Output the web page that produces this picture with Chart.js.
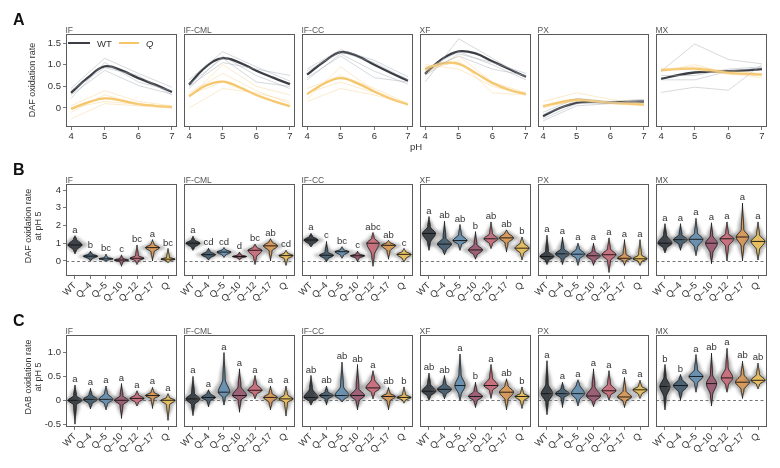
<!DOCTYPE html>
<html><head><meta charset="utf-8">
<script src="https://cdn.jsdelivr.net/npm/chart.js@4.4.1/dist/chart.umd.min.js"></script>
<style>
html,body{margin:0;padding:0;background:#fff}
body{width:780px;height:468px;position:relative;overflow:hidden;font-family:'Liberation Sans',Arial,Helvetica,sans-serif;color:#333}
canvas{position:absolute}
.lab{position:absolute;font-weight:bold;font-size:16px;line-height:16px;color:#111}
.ttl{position:absolute;font-size:8.5px;line-height:10px;color:#555;white-space:nowrap}
.yt{position:absolute;font-size:9px;line-height:10px;color:#333;white-space:nowrap;text-align:center;transform:translate(-50%,-50%) rotate(-90deg)}
.txt{position:absolute;font-size:9.5px;line-height:10px;color:#333;white-space:nowrap}
.ln{position:absolute;height:2.2px}
</style></head><body>
<script>
// ---------------- DATA ----------------
const PANELS = ['IF','IF-CML','IF-CC','XF','PX','MX'];
const PH = [4,5,6,7];
const PH_FIT = [4,4.5,5,5.5,6,6.5,7];
const PH_TICKS = [4,5,6,7];
const RATE_TICKS_A = [0,0.5,1.0,1.5];
const DAF_TICKS = [0,1,2,3,4];
const DAB_TICKS = [-0.5,0,0.5,1.0];

// smoothed curves (values read at PH_FIT)
const WT_FIT = [
  [0.35,0.70,0.96,0.87,0.69,0.54,0.37],
  [0.54,0.95,1.15,1.05,0.86,0.70,0.55],
  [0.77,1.07,1.29,1.20,1.00,0.81,0.63],
  [0.79,1.13,1.31,1.26,1.08,0.90,0.72],
  [-0.19,0.00,0.12,0.14,0.13,0.14,0.15],
  [0.67,0.76,0.82,0.84,0.85,0.87,0.90]
];
const Q_FIT = [
  [-0.02,0.13,0.22,0.17,0.09,0.05,0.02],
  [0.27,0.52,0.61,0.48,0.30,0.16,0.04],
  [0.32,0.56,0.69,0.57,0.38,0.21,0.08],
  [0.90,1.03,1.02,0.81,0.58,0.42,0.32],
  [0.04,0.13,0.19,0.16,0.12,0.10,0.08],
  [0.87,0.90,0.91,0.87,0.81,0.79,0.77]
];
// individual replicates (values at PH)
const WT_REPS = [
  [[0.45,1.15,0.80,0.48],[0.30,0.87,0.52,0.32],[0.22,1.05,0.60,0.40],[0.40,0.93,0.75,0.30]],
  [[0.65,1.30,0.95,0.62],[0.45,1.20,0.75,0.45],[0.50,1.05,0.90,0.75],[0.55,1.15,0.60,0.50]],
  [[0.90,1.35,1.10,0.72],[0.65,1.25,0.85,0.55],[0.70,1.20,0.70,0.60],[0.85,1.30,1.05,0.65]],
  [[0.60,1.60,1.15,0.70],[0.85,1.20,0.90,0.75],[0.75,1.25,1.05,0.80],[0.90,1.30,1.00,0.65]],
  [[-0.30,0.05,0.10,0.17],[-0.25,0.10,0.12,0.15],[-0.10,0.22,0.15,0.20],[-0.15,0.15,0.12,0.12]],
  [[0.85,1.48,1.12,1.02],[0.36,0.48,0.41,1.00],[0.65,0.65,0.85,0.93],[0.75,0.75,0.90,0.95]]
];
const Q_REPS = [
  [[-0.25,0.10,0.05,0.00],[0.05,0.40,0.15,0.05],[-0.10,0.30,0.10,0.02],[0.00,0.15,0.08,0.04]],
  [[0.00,0.45,0.35,0.15],[0.35,0.80,0.40,0.10],[0.30,0.60,0.30,0.05],[0.25,1.00,0.50,0.30]],
  [[0.20,0.95,0.40,0.05],[0.35,0.60,0.35,0.10],[0.15,0.45,0.30,0.10],[0.45,0.75,0.45,0.10]],
  [[0.85,1.10,0.35,0.30],[0.80,1.20,0.60,0.35],[1.00,0.90,0.50,0.30],[0.95,1.05,0.55,0.32]],
  [[0.15,0.35,0.20,0.10],[0.00,0.20,0.10,0.05],[0.05,0.15,0.12,0.10],[0.02,0.18,0.14,0.08]],
  [[0.90,0.95,0.85,0.80],[0.85,1.00,0.80,0.70],[0.88,0.92,0.82,0.75],[0.92,0.88,0.78,0.78]]
];

const GENOTYPES = ['WT','Q–4','Q–5','Q–10','Q–12','Q–17','Q'];

// B: DAF oxidation rate at pH 5 (violin summaries per panel x genotype)
const DAF_MIN = [
  [0.4,0.0,0.0,-0.3,-0.2,0.0,-0.1],
  [0.6,0.05,0.2,0.05,-0.2,0.0,-0.25],
  [0.8,-0.05,0.15,-0.05,-0.3,0.1,-0.05],
  [0.6,0.35,0.6,0.1,0.7,0.5,0.05],
  [-0.2,-0.2,-0.25,-0.25,-0.65,-0.25,-0.25],
  [0.45,0.6,0.3,-0.15,0.0,0.0,0.05]
];
const DAF_LO = [
  [0.6,0.1,0.03,-0.05,0.0,0.5,0.0],
  [0.75,0.15,0.3,0.15,0.2,0.55,0.1],
  [0.9,0.1,0.3,0.15,0.3,0.55,0.1],
  [1.0,0.55,0.9,0.3,0.95,1.0,0.4],
  [0.0,0.1,0.1,0.0,0.0,0.0,-0.05],
  [0.7,0.9,0.75,0.4,0.8,0.8,0.6]
];
const DAF_MED = [
  [0.9,0.27,0.12,0.05,0.15,0.75,0.1],
  [1.0,0.35,0.5,0.25,0.6,0.85,0.3],
  [1.18,0.32,0.52,0.29,1.0,0.88,0.37],
  [1.55,0.95,1.15,0.62,1.25,1.3,0.72],
  [0.25,0.4,0.38,0.29,0.35,0.15,0.12],
  [1.0,1.2,1.22,1.0,1.25,1.35,1.1]
];
const DAF_HI = [
  [1.25,0.4,0.2,0.15,0.3,0.95,0.2],
  [1.2,0.55,0.65,0.35,0.8,1.1,0.45],
  [1.4,0.5,0.65,0.4,1.3,1.05,0.55],
  [1.95,1.3,1.5,0.95,1.55,1.6,1.05],
  [0.55,0.7,0.7,0.55,0.7,0.4,0.35],
  [1.5,1.5,1.6,1.45,1.55,1.8,1.5]
];
const DAF_MAX = [
  [1.42,0.55,0.38,0.34,0.9,1.2,0.7],
  [1.4,0.72,0.75,0.5,0.95,1.25,0.6],
  [1.55,1.1,0.8,0.55,1.6,1.15,0.7],
  [2.5,2.25,2.05,1.65,2.2,1.75,1.35],
  [1.45,1.35,1.0,1.0,1.3,1.2,1.2],
  [2.1,2.1,2.4,2.15,2.2,3.25,2.2]
];
const DAF_LETTERS = [
  ['a','b','bc','c','bc','a','bc'],
  ['a','cd','cd','d','bc','ab','cd'],
  ['a','c','bc','c','abc','ab','c'],
  ['a','ab','ab','b','ab','ab','b'],
  ['a','a','a','a','a','a','a'],
  ['a','a','a','a','a','a','a']
];

// C: DAB oxidation rate at pH 5
const DAB_MIN = [
  [-0.5,-0.18,-0.2,-0.38,-0.12,-0.17,-0.42],
  [-0.32,-0.14,-0.1,-0.25,0.03,-0.2,-0.33],
  [-0.1,-0.1,-0.03,-0.2,0.03,-0.2,-0.06],
  [0.0,0.03,0.0,-0.15,0.04,-0.2,-0.17],
  [-0.3,-0.15,-0.12,-0.13,0.0,-0.15,0.04],
  [-0.2,0.0,0.17,-0.12,0.17,0.04,0.24]
];
const DAB_LO = [
  [-0.1,-0.08,-0.08,-0.1,-0.05,0.03,-0.1],
  [-0.1,-0.02,0.05,0.0,0.12,-0.05,-0.05],
  [-0.03,0.02,0.0,-0.02,0.15,-0.02,0.0],
  [0.08,0.12,0.1,-0.02,0.2,0.0,-0.02],
  [-0.05,0.05,0.0,-0.03,0.1,-0.02,0.12],
  [0.05,0.15,0.35,0.1,0.3,0.22,0.33]
];
const DAB_MED = [
  [0.0,0.02,0.02,0.0,0.04,0.1,0.0],
  [0.03,0.06,0.17,0.1,0.21,0.06,0.03],
  [0.06,0.1,0.1,0.1,0.26,0.08,0.06],
  [0.19,0.23,0.31,0.08,0.31,0.17,0.08],
  [0.14,0.14,0.14,0.09,0.2,0.07,0.22],
  [0.29,0.31,0.5,0.35,0.47,0.38,0.42]
];
const DAB_HI = [
  [0.1,0.12,0.15,0.1,0.12,0.17,0.06],
  [0.15,0.15,0.45,0.3,0.35,0.15,0.12],
  [0.25,0.18,0.3,0.25,0.45,0.15,0.12],
  [0.35,0.35,0.55,0.2,0.48,0.32,0.15],
  [0.35,0.25,0.35,0.3,0.35,0.2,0.3],
  [0.5,0.45,0.65,0.55,0.7,0.55,0.55]
];
const DAB_MAX = [
  [0.32,0.25,0.3,0.35,0.2,0.27,0.14],
  [0.5,0.22,1.0,0.66,0.52,0.3,0.3],
  [0.52,0.3,0.8,0.75,0.62,0.27,0.28],
  [0.57,0.52,0.97,0.38,0.75,0.45,0.28],
  [0.83,0.38,0.43,0.66,0.62,0.48,0.42],
  [0.75,0.54,0.96,0.99,1.09,0.82,0.78]
];
const DAB_LETTERS = [
  ['a','a','a','a','a','a','a'],
  ['a','a','a','a','a','a','a'],
  ['ab','ab','ab','ab','a','ab','b'],
  ['ab','ab','a','b','a','ab','b'],
  ['a','a','a','a','a','a','a'],
  ['b','b','a','ab','a','ab','ab']
];

// ---------------- STYLE / LAYOUT ----------------
const COLORS = ['#3d4348','#4b6374','#6a91b0','#9d6076','#c8717f','#d69a5d','#e6be62'];
const WT_COLOR = '#3b3f45', Q_COLOR = '#f5c669';
const BOX_L0 = 66, BOX_STEP = 118, BOX_W = 111;
const ROW_A = {top:34, h:93, padT:10, padB:22};
const ROW_B = {top:184, h:92, padT:10, padB:32};
const ROW_C = {top:335, h:92, padT:10, padB:40};

Chart.defaults.font.family = "'Liberation Sans', Arial, Helvetica, sans-serif";
Chart.defaults.font.size = 9.5;
Chart.defaults.color = '#333';
Chart.defaults.animation = false;

function addDiv(cls, html, style){
  const d = document.createElement('div');
  d.className = cls; d.innerHTML = html;
  Object.assign(d.style, style);
  document.body.appendChild(d);
  return d;
}

function makeCanvas(i, row){
  const padL = i===0 ? 42 : 16, padR = 8;
  const w = BOX_W + padL + padR, h = row.h + row.padT + row.padB;
  const c = document.createElement('canvas');
  c.width = w; c.height = h;
  Object.assign(c.style,{left:(BOX_L0+BOX_STEP*i-padL)+'px', top:(row.top-row.padT)+'px', width:w+'px', height:h+'px'});
  document.body.appendChild(c);
  return {c, padL, padR};
}
function tickGrid(){ return {display:true, drawOnChartArea:false, drawTicks:true, tickLength:3, color:'#555', lineWidth:0.8}; }
function makeScales(i, padL, row, xc, yc){
  return {
    x:{type:'linear', min:xc.min, max:xc.max, grid:tickGrid(), border:{display:false},
       afterBuildTicks:s=>{ s.ticks = xc.ticks.map(v=>({value:v})); },
       afterFit:s=>{ s.height = row.padB; },
       ticks:{padding:xc.padding, autoSkip:false, minRotation:xc.rot, maxRotation:xc.rot, callback:xc.label, color:'#333'}},
    y:{type:'linear', display:i===0, min:yc.min, max:yc.max, grid:tickGrid(), border:{display:false},
       afterBuildTicks:s=>{ s.ticks = yc.ticks.map(v=>({value:v})); },
       afterFit:s=>{ if(i===0) s.width = padL; },
       ticks:{padding:2, callback:yc.label, color:'#333'}}
  };
}
function boxPlugin(){
  return {id:'panelBox', afterDraw(chart){
    const {ctx, chartArea:a} = chart;
    ctx.save(); ctx.strokeStyle='#5a5a5a'; ctx.lineWidth=1;
    ctx.strokeRect(Math.round(a.left)+0.5, Math.round(a.top)+0.5, Math.round(a.width)-1, Math.round(a.height)-1);
    ctx.restore();
  }};
}
function ss(t){ t=Math.max(0,Math.min(1,t)); return t*t*(3-2*t); }
function prof(v, mn, lo, md, hi, mx){
  const T=0.2, e=1e-6;
  if (v<lo) return T*ss((v-mn)/Math.max(lo-mn,e));
  if (v<md) return T+(1-T)*ss((v-lo)/Math.max(md-lo,e));
  if (v<hi) return T+(1-T)*ss((hi-v)/Math.max(hi-md,e));
  return T*ss((mx-v)/Math.max(mx-hi,e));
}
function violinPlugin(MIN,LO,MED,HI,MAX,LET){
  return {id:'violins', beforeDatasetsDraw(chart){
    const {ctx, chartArea:a, scales:{x,y}} = chart;
    ctx.save();
    ctx.beginPath(); ctx.rect(a.left,a.top,a.width,a.height); ctx.clip();
    // zero reference line
    const y0 = Math.round(y.getPixelForValue(0))+0.5;
    ctx.strokeStyle='#555'; ctx.lineWidth=0.8; ctx.setLineDash([3,2.5]);
    ctx.beginPath(); ctx.moveTo(a.left,y0); ctx.lineTo(a.right,y0); ctx.stroke();
    ctx.setLineDash([]);
    for (let k=0;k<MED.length;k++){
      const mn=MIN[k], lo=LO[k], md=MED[k], hi=HI[k], mx=MAX[k];
      const cx = x.getPixelForValue(k);
      const body = Math.abs(y.getPixelForValue(lo)-y.getPixelForValue(hi));
      const W = Math.max(4, Math.min(7, 110/Math.max(body,1)));
      const N = 80, pts=[];
      for (let s=0;s<=N;s++){ const v = mn+(mx-mn)*s/N; pts.push([y.getPixelForValue(v), prof(v,mn,lo,md,hi,mx)]); }
      // jittered-point halo
      const halo = p => W*1.45*p + 2.8*Math.min(1,p/0.2);
      ctx.save(); ctx.filter='blur(1.4px)'; ctx.fillStyle='rgba(110,110,110,0.5)';
      ctx.beginPath();
      pts.forEach((p,j)=>{ const hw = halo(p[1]); j?ctx.lineTo(cx+hw,p[0]):ctx.moveTo(cx+hw,p[0]); });
      for (let j=pts.length-1;j>=0;j--){ const p=pts[j]; ctx.lineTo(cx-halo(p[1]),p[0]); }
      ctx.closePath(); ctx.fill(); ctx.restore();
      // violin
      ctx.beginPath();
      pts.forEach((p,j)=>{ const hw=W*p[1]; j?ctx.lineTo(cx+hw,p[0]):ctx.moveTo(cx+hw,p[0]); });
      for (let j=pts.length-1;j>=0;j--){ const p=pts[j]; ctx.lineTo(cx-W*p[1],p[0]); }
      ctx.closePath();
      ctx.fillStyle=COLORS[k]; ctx.fill();
      ctx.strokeStyle='#111'; ctx.lineWidth=0.9; ctx.stroke();
      // median
      const ym = y.getPixelForValue(md), hm = W*prof(md,mn,lo,md,hi,mx);
      ctx.beginPath(); ctx.moveTo(cx-hm,ym); ctx.lineTo(cx+hm,ym); ctx.lineWidth=0.9; ctx.stroke();
    }
    ctx.restore();
    // letters
    ctx.save(); ctx.fillStyle='#333'; ctx.font="9.5px 'Liberation Sans', Arial, sans-serif";
    ctx.textAlign='center'; ctx.textBaseline='alphabetic';
    for (let k=0;k<MED.length;k++){
      ctx.fillText(LET[k], x.getPixelForValue(k), y.getPixelForValue(MAX[k])-3);
    }
    ctx.restore();
  }};
}

// ---------------- ROW A ----------------
PANELS.forEach((name,i)=>{
  const {c,padL,padR} = makeCanvas(i, ROW_A);
  const ds = [];
  Q_REPS[i].forEach(r=>ds.push({data:PH.map((x,j)=>({x,y:r[j]})), borderColor:'rgba(247,210,140,0.55)', borderWidth:0.8, tension:0, pointRadius:0}));
  WT_REPS[i].forEach(r=>ds.push({data:PH.map((x,j)=>({x,y:r[j]})), borderColor:'rgba(160,168,178,0.55)', borderWidth:0.8, tension:0, pointRadius:0}));
  ds.push({data:PH_FIT.map((x,j)=>({x,y:Q_FIT[i][j]})), borderColor:Q_COLOR, borderWidth:2.3, tension:0.4, pointRadius:0});
  ds.push({data:PH_FIT.map((x,j)=>({x,y:WT_FIT[i][j]})), borderColor:WT_COLOR, borderWidth:2.3, tension:0.4, pointRadius:0});
  new Chart(c, {type:'line', data:{datasets:ds}, plugins:[boxPlugin()], options:{
    responsive:false, animation:false,
    layout:{padding:{left:i===0?0:padL, right:padR, top:ROW_A.padT, bottom:0}},
    plugins:{legend:{display:false}, tooltip:{enabled:false}},
    scales: makeScales(i, padL, ROW_A,
      {min:3.85, max:7.15, ticks:PH_TICKS, padding:1, rot:0, label:v=>String(v)},
      {min:-0.44, max:1.71, ticks:RATE_TICKS_A, label:v=>v===0?'0':v.toFixed(1)})
  }});
  addDiv('ttl', name, {left:(BOX_L0+BOX_STEP*i-0.5)+'px', top:(ROW_A.top-9.5)+'px'});
});

// ---------------- ROWS B, C ----------------
function violinRow(row, MIN,LO,MED,HI,MAX,LET, ymin,ymax,yticks,ylab){
  PANELS.forEach((name,i)=>{
    const {c,padL,padR} = makeCanvas(i, row);
    new Chart(c, {type:'scatter',
      data:{datasets:[{data:MED[i].map((m,k)=>({x:k,y:m})), pointRadius:0, showLine:false}]},
      plugins:[violinPlugin(MIN[i],LO[i],MED[i],HI[i],MAX[i],LET[i]), boxPlugin()],
      options:{responsive:false, animation:false,
        layout:{padding:{left:i===0?0:padL, right:padR, top:row.padT, bottom:0}},
        plugins:{legend:{display:false}, tooltip:{enabled:false}},
        scales: makeScales(i, padL, row,
          {min:-0.58, max:6.58, ticks:[0,1,2,3,4,5,6], padding:1, rot:45, label:v=>GENOTYPES[Math.round(v)]},
          {min:ymin, max:ymax, ticks:yticks, label:ylab})
      }});
    addDiv('ttl', name, {left:(BOX_L0+BOX_STEP*i-0.5)+'px', top:(row.top-9.5)+'px'});
  });
}
violinRow(ROW_B, DAF_MIN,DAF_LO,DAF_MED,DAF_HI,DAF_MAX,DAF_LETTERS, -0.85,4.34, DAF_TICKS, v=>String(v));
violinRow(ROW_C, DAB_MIN,DAB_LO,DAB_MED,DAB_HI,DAB_MAX,DAB_LETTERS, -0.56,1.37, DAB_TICKS, v=>v===0?'0':v.toFixed(1));

// ---------------- TEXT OVERLAYS ----------------
addDiv('lab','A',{left:'13px', top:'12px'});
addDiv('lab','B',{left:'13px', top:'162px'});
addDiv('lab','C',{left:'13px', top:'313px'});
addDiv('yt','DAF oxidation rate',{left:'32px', top:'80px'});
addDiv('yt','DAF oxidation rate<br>at pH 5',{left:'33px', top:'226px'});
addDiv('yt','DAB oxidation rate<br>at pH 5',{left:'33px', top:'377px'});
addDiv('txt','pH',{left:'410px', top:'142px'});
// legend
addDiv('ln','',{left:'68px', top:'42.3px', width:'22px', background:WT_COLOR});
addDiv('txt','WT',{left:'97px', top:'38.5px'});
addDiv('ln','',{left:'119px', top:'42.3px', width:'20px', background:Q_COLOR});
addDiv('txt','<i>Q</i>',{left:'146px', top:'38.5px'});
</script>
</body></html>
